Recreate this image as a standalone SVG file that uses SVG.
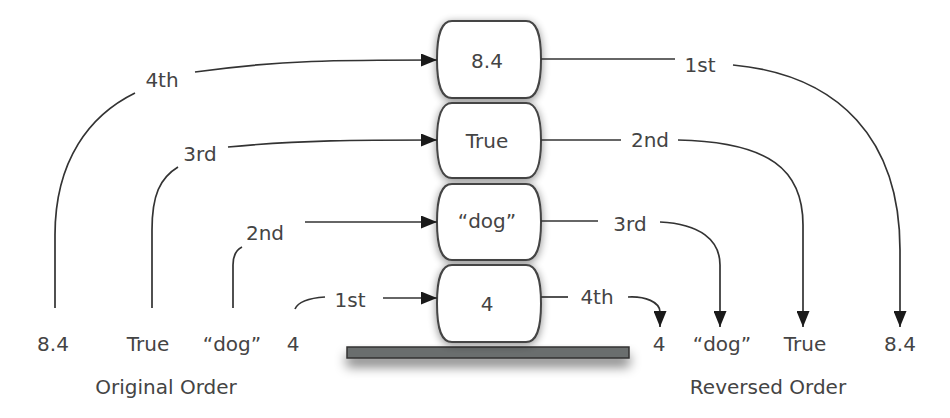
<svg xmlns="http://www.w3.org/2000/svg" width="950" height="418" viewBox="0 0 950 418">
<style>
text{font-family:"DejaVu Sans","Liberation Sans",sans-serif;font-size:20px;fill:#444;text-anchor:middle}
.box{fill:#fff;stroke:#444;stroke-width:2;filter:url(#sh)}
.c{fill:none;stroke:#333;stroke-width:1.7}
.a{marker-end:url(#ah)}
</style>
<defs>
<marker id="ah" markerUnits="userSpaceOnUse" markerWidth="17" markerHeight="13" refX="16" refY="6.5" orient="auto">
<path d="M0,0 L16,6.5 L0,13 z" fill="#1a1a1a"/>
</marker>
<filter id="sh" x="-30%" y="-30%" width="160%" height="160%">
<feGaussianBlur in="SourceAlpha" stdDeviation="4"/>
<feOffset dx="0" dy="2" result="b"/>
<feComponentTransfer><feFuncA type="linear" slope="0.45"/></feComponentTransfer>
<feMerge><feMergeNode/><feMergeNode in="SourceGraphic"/></feMerge>
</filter>
<filter id="psh" x="-10%" y="-100%" width="120%" height="500%">
<feGaussianBlur in="SourceAlpha" stdDeviation="6"/>
<feOffset dx="0" dy="8"/>
<feComponentTransfer><feFuncA type="linear" slope="0.5"/></feComponentTransfer>
<feMerge><feMergeNode/><feMergeNode in="SourceGraphic"/></feMerge>
</filter>
</defs>

<g id="platform">
<rect x="347" y="347" width="282" height="11" fill="#6b6e6e" stroke="#333" stroke-width="1.5" filter="url(#psh)"/>
</g>

<g id="box-8-4">
<path class="box" d="M452,21 H526 C536,21 541,32 541,59.5 C541,87 536,98 526,98 H452 C442,98 437,87 437,59.5 C437,32 442,21 452,21 Z"/>
<text x="487" y="68">8.4</text>
</g>
<g id="box-true">
<path class="box" d="M452,103 H526 C536,103 541,114 541,140.5 C541,167 536,178 526,178 H452 C442,178 437,167 437,140.5 C437,114 442,103 452,103 Z"/>
<text x="487" y="148">True</text>
</g>
<g id="box-dog">
<path class="box" d="M452,184 H526 C536,184 541,195 541,222 C541,249 536,260 526,260 H452 C442,260 437,249 437,222 C437,195 442,184 452,184 Z"/>
<text x="487" y="228">“dog”</text>
</g>
<g id="box-4">
<path class="box" d="M452,265 H526 C536,265 541,276 541,303.5 C541,331 536,342 526,342 H452 C442,342 437,331 437,303.5 C437,276 442,265 452,265 Z"/>
<text x="487" y="311">4</text>
</g>

<g id="connectors">
<path class="c" d="M55,308 L55,235 C55,160 90,115 135,93"/>
<path class="c a" d="M195,72 C280,60 340,60 437,60"/>
<path class="c" d="M152,308 L152,230 C152,195 160,178 178,167"/>
<path class="c a" d="M228,147 C300,140 360,140 437,140"/>
<path class="c" d="M233,308 L233,265 C233,256 236,250 242,247"/>
<path class="c a" d="M305,222 L437,222"/>
<path class="c" d="M295,309 C298,302 310,298 325,297"/>
<path class="c a" d="M383,298 L437,298"/>

<path class="c" d="M541,59 L675,59"/>
<path class="c a" d="M733,65 C840,75 900,140 900,250 L900,327"/>
<path class="c" d="M541,140 L621,140"/>
<path class="c a" d="M678,140 C770,142 803,170 803,225 L803,327"/>
<path class="c" d="M541,221 L598,221"/>
<path class="c a" d="M660,222 C700,224 720,240 720,265 L720,327"/>
<path class="c" d="M541,297 L568,297"/>
<path class="c a" d="M628,297 C645,296 660,302 660,312 L660,327"/>
</g>

<g id="edge-labels">
<text x="162" y="87">4th</text>
<text x="200" y="161">3rd</text>
<text x="265" y="240">2nd</text>
<text x="350" y="307">1st</text>
<text x="700" y="72">1st</text>
<text x="650" y="147">2nd</text>
<text x="630" y="231">3rd</text>
<text x="597" y="304">4th</text>
</g>

<g id="original-order">
<text x="53" y="351">8.4</text>
<text x="148" y="351">True</text>
<text x="232" y="351">“dog”</text>
<text x="293" y="351">4</text>
<text x="166" y="394">Original Order</text>
</g>
<g id="reversed-order">
<text x="659" y="351">4</text>
<text x="722" y="351">“dog”</text>
<text x="805" y="351">True</text>
<text x="900" y="351">8.4</text>
<text x="768" y="394">Reversed Order</text>
</g>
</svg>
